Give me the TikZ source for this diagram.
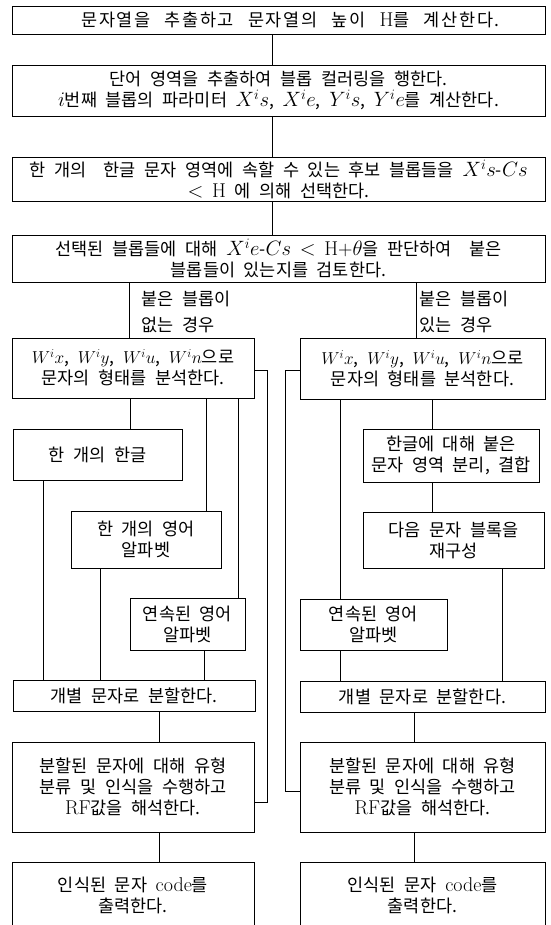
\documentclass[tikz,border=0pt]{standalone}
\usepackage{fontspec}
\newfontfamily\kr[WordSpace=2.2]{Noto Sans CJK KR}
\newfontfamily\krwide[WordSpace=2.6,LetterSpace=9]{Noto Sans CJK KR}
\newcommand\mth[1]{{\fontsize{20}{21}\selectfont$#1$}}
\newcommand\mths[1]{{\fontsize{16.5}{21}\selectfont$#1$}}
\newcommand\latn[1]{{\fontsize{20}{21}\rmfamily\selectfont #1}}
\begin{document}
\begin{tikzpicture}[x=1pt,y=-1pt,
  box/.style={draw, line width=0.8pt, inner sep=2pt, align=center,
    font=\kr\fontsize{17.5}{21}\selectfont},
  lbl/.style={inner sep=0pt, align=left, font=\kr\fontsize{17.5}{26}\selectfont},
  wire/.style={line width=0.8pt}]
\useasboundingbox (0,0) rectangle (550,925);
\clip (0,0) rectangle (550,925);
% main column
\node[box, minimum width=533pt, minimum height=28pt, font=\krwide\fontsize{17.5}{21}\selectfont] (b1) at (278.5,20)
  {\hspace*{24pt}문자열을 추출하고 문자열의 높이 \latn{H}를 계산한다.};
\node[box, minimum width=533pt, minimum height=51pt] (b2) at (278.5,90.5)
  {단어 영역을 추출하여 블롭 컬러링을 행한다.\\\mth{i}번째 블롭의 파라미터 \mth{X^{i}s}, \mth{X^{i}e}, \mth{Y^{i}s}, \mth{Y^{i}e}를 계산한다.};
\node[box, minimum width=533pt, minimum height=43pt] (b3) at (278.5,179.5)
  {한 개의\quad 한글 문자 영역에 속할 수 있는 후보 블롭들을 \mth{X^{i}s}-\mth{Cs}\\\mth{<} \latn{H} 에 의해 선택한다.};
\node[box, minimum width=533pt, minimum height=47pt] (b4) at (278.5,258.5)
  {선택된 블롭들에 대해 \mth{X^{i}e}-\mth{Cs} \mth{<} \latn{H+}\mth{\theta}을 판단하여\quad 붙은\\블롭들이 있는지를 검토한다.};
% labels
\node[lbl, anchor=west] (labL) at (141,312) {붙은 블롭이\\없는 경우};
\node[lbl, anchor=west] (labR) at (419,312) {붙은 블롭이\\있는 경우};
% left column
\node[box, minimum width=242pt, minimum height=60pt] (L5) at (133,368)
  {\mths{W^{i}x}, \mths{W^{i}y}, \mths{W^{i}u}, \mths{W^{i}n}으로\\문자의 형태를 분석한다.};
\node[box, minimum width=169pt, minimum height=51pt] (Lhan) at (97.5,454.5) {한 개의 한글};
\node[box, minimum width=150pt, minimum height=57pt] (Leng) at (146,539.5) {한 개의 영어\\알파벳};
\node[box, minimum width=115pt, minimum height=52pt] (Lcont) at (187.5,624) {연속된 영어\\알파벳};
\node[box, minimum width=242pt, minimum height=31pt] (Lsplit) at (134,695.5) {개별 문자로 분할한다.};
\node[box, minimum width=242pt, minimum height=90pt] (Lrec) at (133,787)
  {분할된 문자에 대해 유형\\분류 및 인식을 수행하고\\\latn{RF}값을 해석한다.};
\node[box, minimum width=242pt, minimum height=66pt] (Lout) at (133,895)
  {인식된 문자 \latn{code}를\\출력한다.};
% right column
\node[box, minimum width=245pt, minimum height=61pt] (R5) at (422.5,368.5)
  {\mths{W^{i}x}, \mths{W^{i}y}, \mths{W^{i}u}, \mths{W^{i}n}으로\\문자의 형태를 분석한다.};
\node[box, minimum width=176pt, minimum height=53pt] (Rhan) at (451,455.5) {한글에 대해 붙은\\문자 영역 분리, 결합};
\node[box, minimum width=181pt, minimum height=56pt] (Rnext) at (453.5,540) {다음 문자 블록을\\재구성};
\node[box, minimum width=147pt, minimum height=51pt] (Rcont) at (373.5,624.5) {연속된 영어\\알파벳};
\node[box, minimum width=245pt, minimum height=31pt] (Rsplit) at (422.5,696.5) {개별 문자로 분할한다.};
\node[box, minimum width=245pt, minimum height=90pt] (Rrec) at (422.5,787)
  {분할된 문자에 대해 유형\\분류 및 인식을 수행하고\\\latn{RF}값을 해석한다.};
\node[box, minimum width=245pt, minimum height=66pt] (Rout) at (422.5,895)
  {인식된 문자 \latn{code}를\\출력한다.};
% x positions
\coordinate (cx) at (272,0);
\coordinate (xl) at (129,0);
\coordinate (xr) at (416,0);
\coordinate (a1) at (130,0);
\coordinate (a2) at (43,0);
\coordinate (a3) at (206,0);
\coordinate (a4) at (100,0);
\coordinate (a5) at (238,0);
\coordinate (a6) at (204,0);
\coordinate (a7) at (159,0);
\coordinate (a8) at (267,0);
\coordinate (r1) at (285,0);
\coordinate (r2) at (340,0);
\coordinate (r3) at (432,0);
\coordinate (r4) at (502,0);
\coordinate (r5) at (414,0);
\coordinate (ya) at (0,370);
\coordinate (yb) at (0,802);
\coordinate (yc) at (0,791);
% connectors main
\draw[wire] (b1.south -| cx) -- (b2.north -| cx);
\draw[wire] (b2.south -| cx) -- (b3.north -| cx);
\draw[wire] (b3.south -| cx) -- (b4.north -| cx);
\draw[wire] (b4.south -| xl) -- (L5.north -| xl);
\draw[wire] (b4.south -| xr) -- (R5.north -| xr);
% left connectors
\draw[wire] (L5.south -| a1) -- (Lhan.north -| a1);
\draw[wire] (Lhan.south -| a2) -- (Lsplit.north -| a2);
\draw[wire] (L5.south -| a3) -- (Leng.north -| a3);
\draw[wire] (Leng.south -| a4) -- (Lsplit.north -| a4);
\draw[wire] (L5.south -| a5) -- (Lcont.north -| a5);
\draw[wire] (Lcont.south -| a6) -- (Lsplit.north -| a6);
\draw[wire] (Lsplit.south -| a7) -- (Lrec.north -| a7);
\draw[wire] (Lrec.south -| a7) -- (Lout.north -| a7);
\draw[wire] (L5.east |- ya) -- (a8 |- ya) -- (a8 |- yb) -- (Lrec.east |- yb);
% right connectors
\draw[wire] (R5.west |- ya) -- (r1 |- ya) -- (r1 |- yc) -- (Rrec.west |- yc);
\draw[wire] (R5.south -| r2) -- (Rcont.north -| r2);
\draw[wire] (R5.south -| r3) -- (Rhan.north -| r3);
\draw[wire] (Rhan.south -| r3) -- (Rnext.north -| r3);
\draw[wire] (Rnext.south -| r4) -- (Rsplit.north -| r4);
\draw[wire] (Rcont.south -| r2) -- (Rsplit.north -| r2);
\draw[wire] (Rsplit.south -| r5) -- (Rrec.north -| r5);
\draw[wire] (Rrec.south -| r5) -- (Rout.north -| r5);
\end{tikzpicture}
\end{document}
